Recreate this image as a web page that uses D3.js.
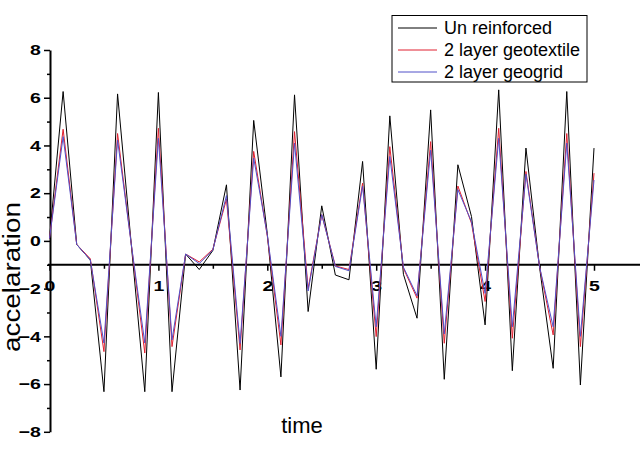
<!DOCTYPE html>
<html>
<head>
<meta charset="utf-8">
<script src="https://cdn.jsdelivr.net/npm/d3@7"></script>
<style>
  body { margin: 0; background: #fff; }
  text { font-family: "Liberation Sans", Arial, sans-serif; }
</style>
</head>
<body>
<div id="chart"></div>
<script>
const times = [
  0, 0.125, 0.25, 0.375, 0.5, 0.625, 0.75, 0.875, 1, 1.125,
  1.25, 1.375, 1.5, 1.625, 1.75, 1.875, 2, 2.125, 2.25, 2.375,
  2.5, 2.625, 2.75, 2.875, 3, 3.125, 3.25, 3.375, 3.5, 3.625,
  3.75, 3.875, 4, 4.125, 4.25, 4.375, 4.5, 4.625, 4.75, 4.875, 5
];
const unReinforced = [
  0.1, 6.26, -0.15, -0.8, -6.32, 6.16, -0.1, -6.32, 6.22, -6.32,
  -0.55, -1.2, -0.4, 2.35, -6.25, 5.05, 0.3, -5.7, 6.12, -2.96,
  1.47, -1.43, -1.63, 3.33, -5.38, 5.24, -1.4, -3.24, 5.49, -5.8,
  3.19, 1.02, -3.52, 6.33, -5.44, 3.89, -1.1, -5.34, 6.26, -6.04, 3.89
];
const geotextile = [
  0.1, 4.68, -0.15, -0.75, -4.64, 4.5, -0.1, -4.7, 4.72, -4.43,
  -0.55, -0.88, -0.35, 1.75, -4.57, 3.75, 0.2, -4.36, 4.58, -2.0,
  1.1, -1.05, -1.2, 2.42, -4.01, 3.95, -1.15, -2.4, 4.16, -4.29,
  2.3, 0.74, -2.54, 4.72, -4.08, 2.91, -1.08, -3.94, 4.5, -4.43, 2.84
];
const geogrid = [
  0.1, 4.37, -0.15, -0.8, -4.28, 4.23, -0.1, -4.28, 4.3, -4.15,
  -0.55, -0.95, -0.38, 1.9, -4.3, 3.47, 0.25, -4.0, 4.1, -2.1,
  1.1, -1.07, -1.25, 2.3, -3.6, 3.54, -1.1, -2.3, 3.8, -3.9,
  2.15, 0.8, -2.2, 4.3, -3.6, 2.8, -1.08, -3.6, 4.1, -4.0, 2.55
];
const seriesNames = ['Un reinforced', '2 layer geotextile', '2 layer geogrid'];
const xTicks = [0, 1, 2, 3, 4, 5];
const yTicks = [-8, -6, -4, -2, 0, 2, 4, 6, 8];

const width = 640;
const height = 476;
const colors = ['#000000', '#e02030', '#5050c8'];
const labelFont = '"Liberation Sans", Arial, sans-serif';

const svg = d3.select('#chart').append('svg').attr('width', width).attr('height', height);

const x = d3.scaleLinear().domain([0, 5]).range([49.5, 594]);
const y = d3.scaleLinear().domain([-8, 8]).range([431.8, 50]);

// y axis, minor ticks first
svg
  .append('g')
  .attr('transform', 'translate(50,0)')
  .call(d3.axisLeft(y).tickValues(d3.range(-7, 8, 2)).tickSize(3).tickFormat(''))
  .call((g) => g.select('.domain').remove())
  .call((g) => g.selectAll('line').attr('stroke-width', 1.5));

// tick labels in the original are wide and bold, stretch them a little
svg
  .append('g')
  .attr('transform', 'translate(50,0)')
  .call(d3.axisLeft(y).tickValues(yTicks).tickSize(6).tickSizeOuter(0).tickFormat(d3.format('d')))
  .call((g) => g.select('.domain').attr('stroke-width', 2))
  .call((g) => g.selectAll('line').attr('stroke-width', 1.5))
  .call((g) =>
    g
      .selectAll('text')
      .attr('x', -7)
      .attr('transform', 'scale(1.3,1)')
      .attr('font-size', 15)
      .attr('font-weight', 'bold')
      .attr('font-family', labelFont)
  );

// x axis sits at y = -1
const xAxisY = y(-1);
svg
  .append('g')
  .attr('transform', `translate(0,${xAxisY})`)
  .call(d3.axisBottom(x).tickValues(d3.range(0.5, 5.5, 1)).tickSize(4).tickFormat(''))
  .call((g) => g.select('.domain').remove())
  .call((g) => g.selectAll('line').attr('stroke-width', 1.5));

svg
  .append('g')
  .attr('transform', `translate(0,${xAxisY})`)
  .call(d3.axisBottom(x).tickValues(xTicks).tickSize(6).tickPadding(10).tickFormat(d3.format('d')))
  .call((g) => g.select('.domain').remove())
  .call((g) => g.selectAll('line').attr('stroke-width', 1.5))
  .call((g) =>
    g
      .selectAll('text')
      .attr('transform', 'scale(1.3,1)')
      .attr('font-size', 15)
      .attr('font-weight', 'bold')
      .attr('font-family', labelFont)
  );

svg
  .append('line')
  .attr('x1', 48)
  .attr('x2', width)
  .attr('y1', xAxisY)
  .attr('y2', xAxisY)
  .attr('stroke', '#000')
  .attr('stroke-width', 2);

// series
const line = d3
  .line()
  .x((d) => x(d[0]))
  .y((d) => y(d[1]));

[unReinforced, geotextile, geogrid].forEach((vals, i) => {
  svg
    .append('path')
    .datum(times.map((t, j) => [t, vals[j]]))
    .attr('fill', 'none')
    .attr('stroke', colors[i])
    .attr('stroke-width', 1)
    .attr('d', line);
});

// axis titles
svg
  .append('text')
  .attr('transform', 'translate(20,277) rotate(-90)')
  .attr('text-anchor', 'middle')
  .attr('font-size', 23)
  .attr('textLength', 150)
  .attr('lengthAdjust', 'spacingAndGlyphs')
  .text('accelaration');

svg
  .append('text')
  .attr('x', 302)
  .attr('y', 433)
  .attr('text-anchor', 'middle')
  .attr('font-size', 22)
  .text('time');

// legend
const legend = svg.append('g');
legend
  .append('rect')
  .attr('x', 392)
  .attr('y', 15.5)
  .attr('width', 195)
  .attr('height', 66.5)
  .attr('fill', '#fff')
  .attr('stroke', '#000')
  .attr('stroke-width', 1);

seriesNames.forEach((name, i) => {
  const ly = 28 + i * 22;
  legend
    .append('line')
    .attr('x1', 398)
    .attr('x2', 437)
    .attr('y1', ly)
    .attr('y2', ly)
    .attr('stroke', colors[i])
    .attr('stroke-width', 1);
  legend
    .append('text')
    .attr('x', 444)
    .attr('y', ly + 6)
    .attr('font-size', 18)
    .text(name);
});
</script>
</body>
</html>
